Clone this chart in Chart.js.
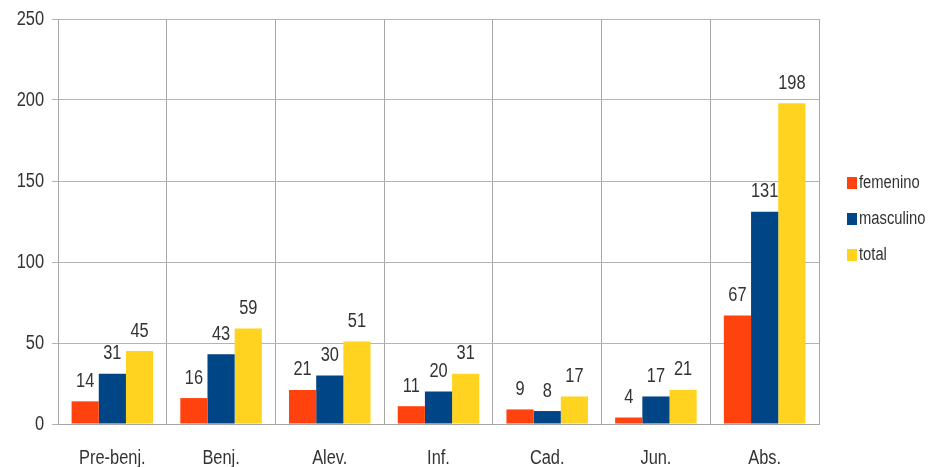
<!DOCTYPE html>
<html>
<head>
<meta charset="utf-8">
<script src="https://cdn.jsdelivr.net/npm/chart.js@4/dist/chart.umd.min.js"></script>
<style>
html,body{margin:0;padding:0;background:#fff;}
#wrap{width:928px;height:467px;position:relative;}
</style>
</head>
<body>
<div id="wrap"><canvas id="c" width="928" height="467"></canvas></div>
<script>
const categories = ["Pre-benj.", "Benj.", "Alev.", "Inf.", "Cad.", "Jun.", "Abs."];
const femenino = [14, 16, 21, 11, 9, 4, 67];
const masculino = [31, 43, 30, 20, 8, 17, 131];
const total = [45, 59, 51, 31, 17, 21, 198];
const seriesNames = ["femenino", "masculino", "total"];
const seriesColors = ["#FF420E", "#004586", "#FFD320"];
const yTicks = [0, 50, 100, 150, 200, 250];

const FONT = '"Liberation Sans", Arial, sans-serif';
const NARROW = 0.82;
const TEXT_COLOR = '#333333';

function narrowText(ctx, text, x, y, align, size) {
  ctx.save();
  ctx.font = size + 'px ' + FONT;
  ctx.fillStyle = TEXT_COLOR;
  ctx.textAlign = align;
  ctx.textBaseline = 'middle';
  ctx.translate(x, y);
  ctx.scale(NARROW, 1);
  ctx.fillText(text, 0, 0);
  ctx.restore();
}

const axisLabels = {
  id: 'axisLabels',
  afterDraw(chart) {
    const ctx = chart.ctx;
    const ys = chart.scales.y, xs = chart.scales.x;
    ys.ticks.forEach(t => {
      narrowText(ctx, String(t.value), 44, ys.getPixelForValue(t.value), 'right', 20);
    });
    categories.forEach((c, i) => {
      narrowText(ctx, c, xs.getPixelForValue(i), 458, 'center', 20);
    });
  }
};

const valueLabels = {
  id: 'valueLabels',
  afterDatasetsDraw(chart) {
    const ctx = chart.ctx;
    chart.data.datasets.forEach((ds, i) => {
      chart.getDatasetMeta(i).data.forEach((bar, j) => {
        narrowText(ctx, String(ds.data[j]), bar.x, bar.y - 20, 'center', 20);
      });
    });
  }
};

const customLegend = {
  id: 'customLegend',
  afterDraw(chart) {
    const ctx = chart.ctx;
    const x0 = 847, ys = [183, 219, 255];
    chart.data.datasets.forEach((ds, i) => {
      ctx.save();
      ctx.fillStyle = ds.backgroundColor;
      ctx.fillRect(x0, ys[i] - 6, 10, 12);
      ctx.restore();
      narrowText(ctx, ds.label, x0 + 12, ys[i], 'left', 18);
    });
  }
};

const bg = {
  id: 'bg',
  beforeDraw(chart) {
    const ctx = chart.ctx;
    ctx.save();
    ctx.fillStyle = '#fff';
    ctx.fillRect(0, 0, chart.width, chart.height);
    ctx.restore();
  }
};

new Chart(document.getElementById('c'), {
  type: 'bar',
  data: {
    labels: categories,
    datasets: [
      { label: seriesNames[0], data: femenino, backgroundColor: seriesColors[0] },
      { label: seriesNames[1], data: masculino, backgroundColor: seriesColors[1] },
      { label: seriesNames[2], data: total, backgroundColor: seriesColors[2] }
    ]
  },
  options: {
    responsive: false,
    animation: false,
    devicePixelRatio: 1,
    layout: { padding: { top: 19, right: 109, left: 0, bottom: 0 } },
    datasets: { bar: { categoryPercentage: 0.75, barPercentage: 1.0 } },
    plugins: {
      legend: { display: false },
      tooltip: { enabled: false }
    },
    scales: {
      x: {
        grid: { color: '#a6a6a6', lineWidth: 1, drawTicks: false, offset: true },
        border: { color: '#a6a6a6' },
        ticks: { display: false },
        afterFit(scale) { scale.height = 43; }
      },
      y: {
        min: 0, max: 250,
        afterBuildTicks(scale) { scale.ticks = yTicks.map(v => ({ value: v })); },
        grid: { color: '#b3b3b3', lineWidth: 1, tickLength: 6, tickColor: '#b3b3b3' },
        border: { color: '#a6a6a6' },
        ticks: { display: false },
        afterFit(scale) { scale.width = 58; }
      }
    }
  },
  plugins: [bg, valueLabels, customLegend, axisLabels]
});
</script>
</body>
</html>
